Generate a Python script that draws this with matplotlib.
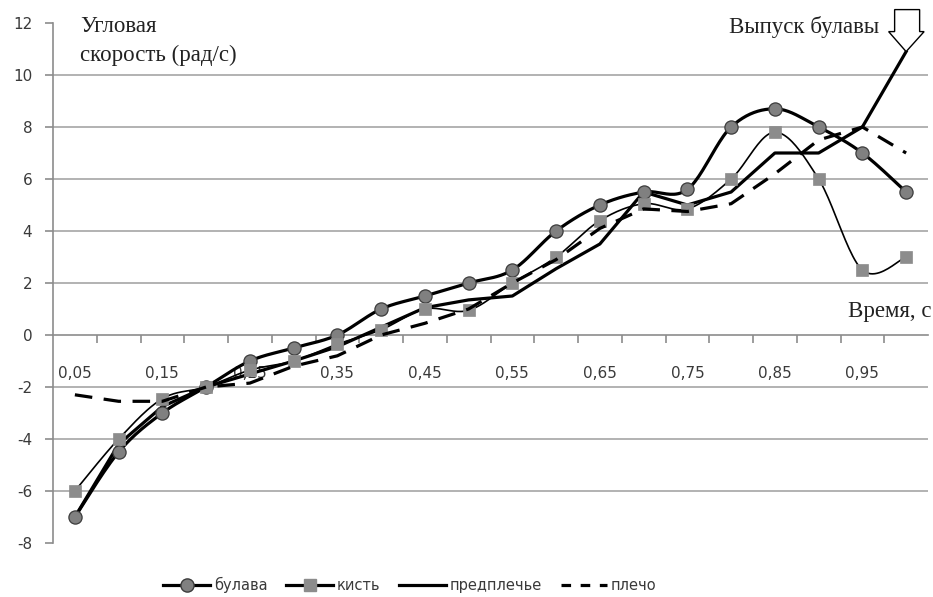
import numpy as np
import matplotlib
matplotlib.use("Agg")
import matplotlib.pyplot as plt
from matplotlib.patches import Polygon
from matplotlib.transforms import ScaledTranslation
from matplotlib.lines import Line2D

plt.rcParams["font.family"] = ["DejaVu Sans"]

# ---------------- data ----------------
times = ["0,05", "0,10", "0,15", "0,20", "0,25", "0,30", "0,35", "0,40", "0,45", "0,50",
         "0,55", "0,60", "0,65", "0,70", "0,75", "0,80", "0,85", "0,90", "0,95", "1,00"]
x_tick_labels = ["0,05", "0,15", "0,25", "0,35", "0,45", "0,55", "0,65", "0,75", "0,85", "0,95"]
y_ticks = [-8, -6, -4, -2, 0, 2, 4, 6, 8, 10, 12]

bulava = [-7, -4.5, -3, -2, -1, -0.5, 0, 1, 1.5, 2, 2.5, 4, 5, 5.5, 5.6, 8, 8.7, 8, 7, 5.5]
kist = [-6, -4, -2.45, -2, -1.35, -1, -0.35, 0.2, 1.0, 0.95, 2, 3, 4.4, 5.05, 4.85, 6, 7.8, 6, 2.5, 3]
predpl = [-7, -4.2, -2.75, -2, -1.5, -1, -0.45, 0.3, 1.05, 1.35, 1.5, 2.55, 3.5, 5.5, 5.0, 5.5, 7, 7, 8, 10.9]
plecho = [-2.3, -2.55, -2.55, -2.0, -1.85, -1.2, -0.8, 0.0, 0.45, 1.0, 2.0, 2.9, 4.1, 4.85, 4.75,
          5.05, 6.2, 7.5, 8.0, 7.0]

series_names = ["булава", "кисть", "предплечье", "плечо"]


def smooth(xs, ys, n=24):
    """Excel-style smoothed line (Catmull-Rom Bezier) through the points."""
    P = np.column_stack([xs, ys]).astype(float)
    out = [P[0]]
    m = len(P)
    for i in range(m - 1):
        p0 = P[i - 1] if i > 0 else P[i]
        p1 = P[i]
        p2 = P[i + 1]
        p3 = P[i + 2] if i + 2 < m else P[i + 1]
        c1 = p1 + (p2 - p0) / 6.0
        c2 = p2 - (p3 - p1) / 6.0
        t = np.linspace(0, 1, n)[1:, None]
        seg = ((1 - t) ** 3) * p1 + 3 * ((1 - t) ** 2) * t * c1 + 3 * (1 - t) * t ** 2 * c2 + t ** 3 * p2
        out.extend(seg)
    out = np.array(out)
    return out[:, 0], out[:, 1]


W, H = 933, 597
fig = plt.figure(figsize=(W / 100, H / 100), dpi=100)
ax = fig.add_axes([53 / W, 1 - 543 / H, 875 / W, 520 / H])

x = np.arange(len(times))
grid_c = "#a6a6a6"
axis_c = "#8c8c8c"
txt_c = "#3a3a3a"

# gridlines (not at the plot bounds)
for v in y_ticks:
    if v not in (-8, 12, 0):
        ax.axhline(v, color=grid_c, lw=1.2, zorder=0)

# series
sx, sy = smooth(x, bulava)
ax.plot(sx, sy, color="black", lw=2.3, zorder=3)
ax.plot(x, bulava, ls="none", marker="o", ms=9.5, mfc="#808080", mec="#3c3c3c", mew=0.9, zorder=4)

sx, sy = smooth(x, kist)
ax.plot(sx, sy, color="black", lw=1.2, zorder=3)
ax.plot(x, kist, ls="none", marker="s", ms=9, mfc="#8c8c8c", mec="#8c8c8c", mew=0.5, zorder=4)

ax.plot(x, predpl, color="black", lw=2.3, zorder=3, solid_joinstyle="round")

ax.plot(x, plecho, color="black", lw=2.3, ls=(0, (5.5, 3.6)), zorder=5)

ax.set_xlim(-0.5, len(times) - 0.5)
ax.set_ylim(-8, 12)

# spines
for s in ["top", "right"]:
    ax.spines[s].set_visible(False)
ax.spines["left"].set_color(axis_c)
ax.spines["left"].set_linewidth(1.2)
ax.spines["bottom"].set_position(("data", 0))
ax.spines["bottom"].set_color(axis_c)
ax.spines["bottom"].set_linewidth(1.2)

# y ticks
ax.set_yticks(y_ticks)
ax.set_yticklabels([str(v) for v in y_ticks])
ax.tick_params(axis="y", direction="out", length=6, width=1.2, color=axis_c,
               labelsize=11, labelcolor=txt_c, pad=9)

# x ticks: marks at category boundaries, labels every other category
ax.set_xticks(np.arange(0.5, len(times) - 0.5, 1.0))
ax.set_xticklabels([])
ax.tick_params(axis="x", which="major", direction="out", length=6, width=1.2, color=axis_c)
ax.set_xticks(np.arange(0, len(times), 2), minor=True)
ax.set_xticklabels(x_tick_labels, minor=True)
ax.tick_params(axis="x", which="minor", length=0, labelsize=11, labelcolor=txt_c, pad=22)

# release arrow (block arrow pointing down to the last forearm point)
tr = fig.dpi_scale_trans + ScaledTranslation(x[-1], predpl[-1], ax.transData)
px = np.array([[0, 0], [-17.5, 20], [-11.5, 20], [-11.5, 42], [13.5, 42], [13.5, 20], [18, 20]]) / 100.0
ax.add_patch(Polygon(px, closed=True, facecolor="white", edgecolor="black",
                     lw=1.0, transform=tr, clip_on=False, zorder=6))

# texts
serif = ["Liberation Serif", "DejaVu Serif"]
tc = "#222222"
fig.text(80 / W, 1 - 27 / H, "Угловая", family=serif, fontsize=16.5, color=tc,
         ha="left", va="center")
fig.text(80 / W, 1 - 55 / H, "скорость (рад/с)", family=serif, fontsize=16.5, color=tc,
         ha="left", va="center")
fig.text(879 / W, 1 - 27 / H, "Выпуск булавы", family=serif, fontsize=16.5, color=tc,
         ha="right", va="center")
fig.text(931 / W, 1 - 311 / H, "Время, с", family=serif, fontsize=16.5, color=tc,
         ha="right", va="center")

# legend
handles = [
    Line2D([], [], color="black", lw=2.3, marker="o", ms=9.5, mfc="#808080", mec="#3c3c3c"),
    Line2D([], [], color="black", lw=2.3, marker="s", ms=9, mfc="#8c8c8c", mec="#8c8c8c"),
    Line2D([], [], color="black", lw=2.3),
    Line2D([], [], color="black", lw=2.3, ls=(0, (3, 3))),
]
fig.legend(handles, series_names, loc="center", bbox_to_anchor=(410 / W, 1 - 585 / H), ncol=4,
           frameon=False, fontsize=10.5, handlelength=3.2, handletextpad=0.25,
           columnspacing=1.3, labelcolor=txt_c)

fig.savefig("out.png", dpi=100)
